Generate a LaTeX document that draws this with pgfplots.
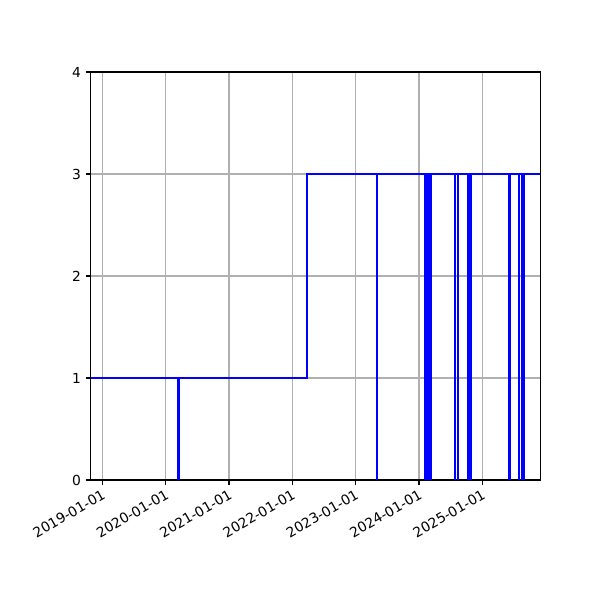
\documentclass[border=0pt]{standalone}
\usepackage{fontspec}
\setmainfont{DejaVu Sans}
\usepackage{pgfplots}
\pgfplotsset{compat=1.18}
\definecolor{gridgray}{HTML}{B0B0B0}
\begin{document}
\begin{tikzpicture}
\useasboundingbox (0,0) rectangle (6in,6in);
\begin{axis}[
  at={(0.907in,1.2in)}, anchor=south west,
  scale only axis, width=4.496in, height=4.08in,
  xmin=2018.817, xmax=2025.916, ymin=0, ymax=4,
  xtick={2019,2020,2021,2022,2023,2024,2025},
  xticklabels={2019-01-01,2020-01-01,2021-01-01,2022-01-01,2023-01-01,2024-01-01,2025-01-01},
  ytick={0,1,2,3,4},
  grid=major,
  grid style={color=gridgray, line width=0.8pt},
  axis line style={line width=0.8pt},
  tick style={black, line width=0.8pt},
  tick align=outside, major tick length=3.5pt,
  xtick pos=left, ytick pos=left,
  /pgf/number format/assume math mode=true,
  tick label style={font=\fontsize{10}{12}\selectfont},
  x tick label style={rotate=30, anchor=north east, inner sep=2pt},
]
% status over time (step, value held until next point)
\addplot[blue, line width=1.5pt, const plot mark left] coordinates {
  (2018.817,1)
  (2020.195,0) (2020.205,1)
  (2022.227,3)
  (2023.333,0) (2023.343,3)
  (2024.095,0) (2024.105,3)
  (2024.114,0) (2024.124,3)
  (2024.135,0) (2024.145,3)
  (2024.182,0) (2024.192,3)
  (2024.564,0) (2024.574,3)
  (2024.612,0) (2024.622,3)
  (2024.776,0) (2024.786,3)
  (2024.792,0) (2024.802,3)
  (2024.808,0) (2024.818,3)
  (2025.425,0) (2025.435,3)
  (2025.575,0) (2025.585,3)
  (2025.622,0) (2025.632,3)
  (2025.643,0) (2025.653,3)
  (2025.916,3)
};
\end{axis}
\end{tikzpicture}
\end{document}
